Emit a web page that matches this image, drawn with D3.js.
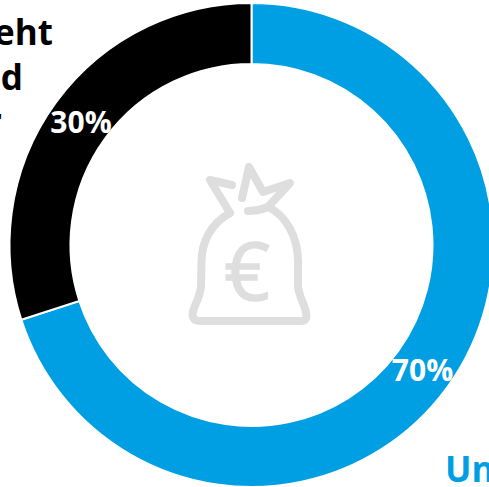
<!DOCTYPE html>
<html><head><meta charset="utf-8">
<script src="https://cdn.jsdelivr.net/npm/d3@7"></script>
<style>html,body{margin:0;background:#fff;overflow:hidden}svg{display:block}text{font-family:"Open Sans",sans-serif}</style>
</head><body><svg id="c" width="489" height="487"></svg>
<script>
const categories=["Unternehmen","Privat"];
const values=[70,30];
const colors=["#009fe3","#000000"];
const pctLabels=["70%","30%"];
const clippedLines=["geht","und","er","s"];
const svg=d3.select("#c");
const cx=251.5,cy=245,R=242,r=181;
const pie=d3.pie().sort(null).value(d=>d)(values);
const arc=d3.arc().innerRadius(r).outerRadius(R);
const g=svg.append("g").attr("transform",`translate(${cx},${cy})`);
g.selectAll("path").data(pie).join("path").attr("d",arc).attr("fill",(d,i)=>colors[i]).attr("stroke","#fff").attr("stroke-width",2);
const labelPos=[[422.5,381],[81,133]];
svg.selectAll("text.p").data(pctLabels).join("text").attr("class","p")
 .attr("x",(d,i)=>labelPos[i][0]).attr("y",(d,i)=>labelPos[i][1]).attr("text-anchor","middle")
 .attr("fill","#fff").attr("font-weight",700).attr("font-size",30).text(d=>d);
const ends=[53,23,2,1];
svg.selectAll("text.l").data(clippedLines).join("text").attr("class","l")
 .attr("x",(d,i)=>ends[i]).attr("y",(d,i)=>45+i*44.5).attr("text-anchor","end")
 .attr("fill","#000").attr("font-weight",700).attr("font-size",35).text(d=>d);
svg.append("text").attr("x",445).attr("y",482).attr("fill","#009fe3").attr("font-weight",700).attr("font-size",35).text(categories[0]);
// icon
const ic=svg.append("g").attr("fill","none").attr("stroke","#dedede").attr("stroke-width",8).attr("stroke-linejoin","round").attr("stroke-linecap","round");
ic.append("path").attr("d","M230 213 C210 224 201.5 243 201.5 262 L201 286 C200 300 193 305 192.5 315 Q193 321 200 321 L301 321 Q308 321 306 313 C305 304 299 298 298 286 L298 262 C298 238 287 216 268 207");
ic.append("path").attr("d","M230 213 L210 180 L232 185");
ic.append("path").attr("d","M242 198 L249 167 L263 192 L290 183 L268 207 Q258 211 248 211");
svg.append("text").attr("x",247).attr("y",300).attr("text-anchor","middle").attr("fill","#dedede").attr("stroke","#dedede").attr("stroke-width",1.5).attr("font-size",80).text("€");
</script></body></html>
